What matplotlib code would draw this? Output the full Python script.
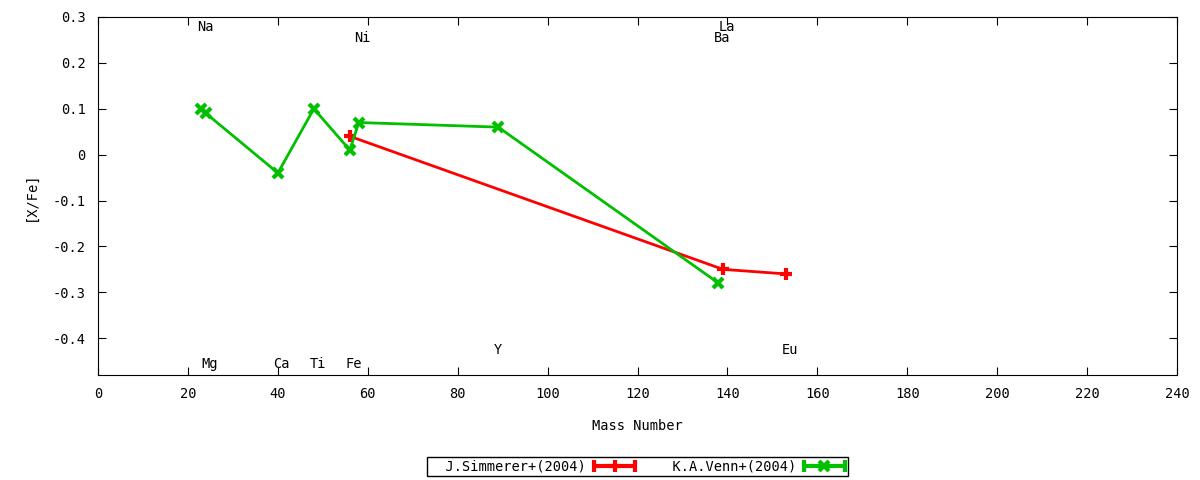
import matplotlib
matplotlib.use("Agg")
from matplotlib import pyplot as plt
from matplotlib.lines import Line2D
from matplotlib.legend_handler import HandlerBase

# J.Simmerer+(2004)
sim_mass = [56, 139, 153]
sim_val = [0.04, -0.25, -0.26]

# K.A.Venn+(2004)
venn_mass = [23, 24, 40, 48, 56, 58, 89, 138]
venn_val = [0.10, 0.09, -0.04, 0.10, 0.01, 0.07, 0.06, -0.28]

# element labels: name, x, y
lab_name = ['Na', 'Mg', 'Ca', 'Ti', 'Fe', 'Ni', 'Y', 'La', 'Ba', 'Eu']
lab_x = [23, 24, 40, 48, 56, 58, 89, 139, 138, 153]
lab_y = [0.278, -0.457, -0.457, -0.457, -0.457, 0.254, -0.426, 0.278, 0.254, -0.426]

plt.rcParams['font.family'] = 'DejaVu Sans Mono'
plt.rcParams['font.size'] = 9.5
plt.rcParams['axes.unicode_minus'] = False


class ErrHandler(HandlerBase):
    # gnuplot style key sample: line with caps at both ends, marker in the middle
    def create_artists(self, legend, orig_handle, xdescent, ydescent,
                       width, height, fontsize, trans):
        y = height / 2 - ydescent
        x0, x1 = -xdescent, width - xdescent
        c = orig_handle.get_color()
        line = Line2D([x0, x1], [y, y], color=c, lw=3, solid_capstyle='butt')
        caps = Line2D([x0, x1], [y, y], ls='none', marker='|', ms=9, mew=3, color=c)
        mk = Line2D([(x0 + x1) / 2], [y], ls='none', marker=orig_handle.get_marker(),
                    ms=orig_handle.get_markersize(), mew=orig_handle.get_markeredgewidth(), color=c)
        for a in (line, caps, mk):
            a.set_transform(trans)
        return [line, caps, mk]


fig = plt.figure(figsize=(12, 4.8), dpi=100)
ax = fig.add_axes([0.0817, 0.219, 0.8992, 0.7456])

l1, = ax.plot(sim_mass, sim_val, color='#ff0000', lw=2, marker='+', ms=9, mew=3,
              label='  J.Simmerer+(2004)')
l2, = ax.plot(venn_mass, venn_val, color='#00c000', lw=2, marker='x', ms=7, mew=3,
              label='  K.A.Venn+(2004)')

for n, x, y in zip(lab_name, lab_x, lab_y):
    ax.text(x - 1.0, y, n, ha='left', va='center', fontsize=9.8)

ax.set_xlim(0, 240)
ax.set_ylim(-0.48, 0.3)
ax.set_xticks(range(0, 241, 20))
ax.set_yticks([-0.4, -0.3, -0.2, -0.1, 0, 0.1, 0.2, 0.3])
ax.set_yticklabels(['%g' % v for v in [-0.4, -0.3, -0.2, -0.1, 0, 0.1, 0.2, 0.3]])
ax.tick_params(direction='in', top=True, right=True, length=6, labelsize=9.8, pad=9)
ax.set_xlabel('Mass Number', fontsize=9.8, labelpad=13)
ax.set_ylabel('[X/Fe]', fontsize=9.8, labelpad=11)

fig.legend(handles=[l1, l2], loc='lower center', bbox_to_anchor=(0.531, 0.008), ncol=2,
           markerfirst=False, fancybox=False, edgecolor='black', framealpha=1,
           fontsize=9.8, handlelength=3.0, handletextpad=0.6, columnspacing=1.5,
           borderpad=0.2, borderaxespad=0.0,
           handler_map={Line2D: ErrHandler()})

fig.savefig('out.png')
